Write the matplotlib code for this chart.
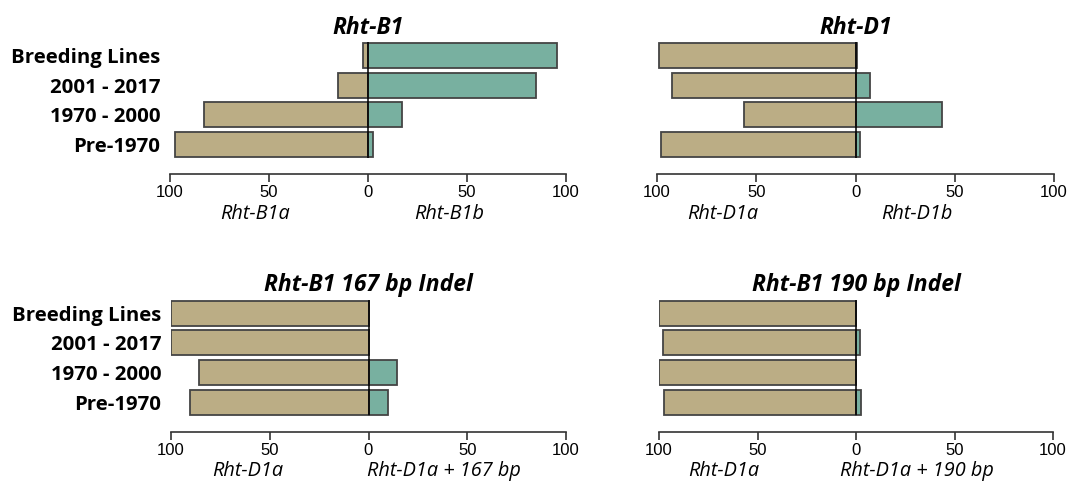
import matplotlib

matplotlib.use("Agg")
import matplotlib.pyplot as plt
import numpy as np

# Allele frequencies (%) per germplasm group, bottom to top
groups = ["Pre-1970", "1970 - 2000", "2001 - 2017", "Breeding Lines"]

b1_a = [97.5, 82.8, 15.0, 2.5]
b1_b = [2.5, 17.2, 85.0, 95.5]

d1_a = [97.8, 56.3, 92.6, 99.0]
d1_b = [2.2, 43.7, 7.2, 1.0]

indel167_a = [90.5, 85.6, 100.0, 100.0]
indel167_b = [9.8, 14.6, 0.0, 0.0]

indel190_a = [97.6, 100.0, 98.1, 100.0]
indel190_b = [2.5, 0.0, 1.9, 0.0]

panels = [
    ("Rht-B1", b1_a, b1_b, "Rht-B1a", "Rht-B1b", -57, 41),
    ("Rht-D1", d1_a, d1_b, "Rht-D1a", "Rht-D1b", -67, 31),
    ("Rht-B1 167 bp Indel", indel167_a, indel167_b, "Rht-D1a", "Rht-D1a + 167 bp", -61, 38),
    ("Rht-B1 190 bp Indel", indel190_a, indel190_b, "Rht-D1a", "Rht-D1a + 190 bp", -67, 31),
]

TAN = "#bbad85"
TEAL = "#78b0a0"
EDGE = "#444444"
LABEL_FONT = "Open Sans"
NUM_FONT = "Liberation Sans"

W, H = 1073, 483
fig = plt.figure(figsize=(W / 100, H / 100), dpi=100)

# axes boxes in pixels: left, right, top, bottom
boxes = [
    (170, 566, 40.7, 174),
    (657, 1054, 40.7, 174),
    (171, 566, 298.5, 431.7),
    (659, 1053, 298.5, 431.7),
]

y = np.arange(len(groups))
for i, (title, left, right, lab_l, lab_r, xl, xr) in enumerate(panels):
    x0, x1, t, b = boxes[i]
    ax = fig.add_axes([x0 / W, 1 - b / H, (x1 - x0) / W, (b - t) / H])
    ax.barh(y, -np.array(left), height=0.84, color=TAN, edgecolor=EDGE, linewidth=1.3)
    ax.barh(y, right, height=0.84, color=TEAL, edgecolor=EDGE, linewidth=1.3)
    ax.vlines(0, -0.45, 3.45, color="black", linewidth=1.1, zorder=5)

    ax.set_xlim(-100, 100)
    ax.set_ylim(-1.0, 3.5)
    for s in ["top", "right", "left"]:
        ax.spines[s].set_visible(False)
    ax.spines["bottom"].set_bounds(-100, 100)
    ax.spines["bottom"].set_linewidth(1.2)
    ax.spines["bottom"].set_color("#333333")
    ax.set_xticks([-100, -50, 0, 50, 100])
    ax.set_xticklabels(["100", "50", "0", "50", "100"], fontsize=12, family=NUM_FONT)
    ax.tick_params(axis="x", direction="out", length=6, width=1.2, color="#333333", pad=2)

    if i % 2 == 0:
        ax.set_yticks(y)
        ax.set_yticklabels(groups, fontsize=14.7, fontweight="bold", family=LABEL_FONT)
        ax.tick_params(axis="y", length=0, pad=7)
    else:
        ax.set_yticks([])

    ax.annotate(title, xy=(0, 1), xycoords=("data", "axes fraction"),
                xytext=(0, 9.5), textcoords="offset points", ha="center", va="center",
                fontsize=16.5, fontweight="bold", fontstyle="italic", family=LABEL_FONT)
    for xpos, lab in [(xl, lab_l), (xr, lab_r)]:
        ax.annotate(lab, xy=(xpos, 0), xycoords=("data", "axes fraction"),
                    xytext=(0, -28.5), textcoords="offset points", ha="center", va="center",
                    fontsize=14.3, fontstyle="italic", family=LABEL_FONT)

fig.savefig("out.png", dpi=100)
